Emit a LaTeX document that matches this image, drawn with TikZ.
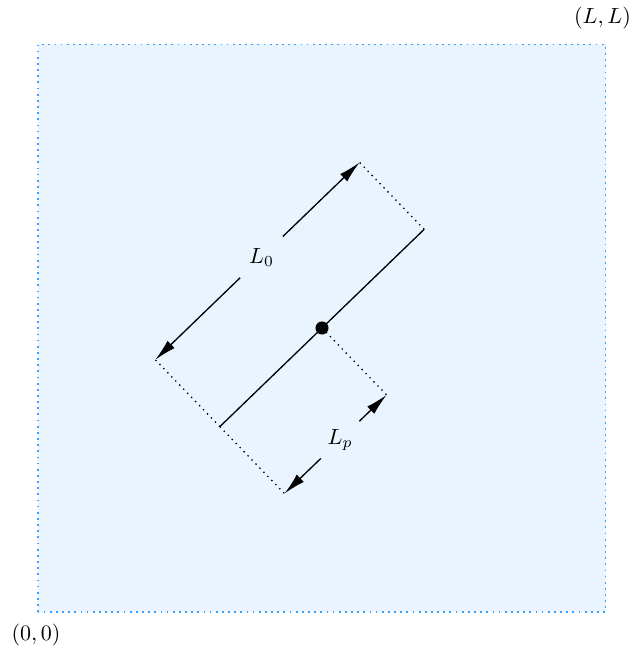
\documentclass[tikz,border=0pt]{standalone}
\usepackage{amsmath}
\usetikzlibrary{arrows.meta,calc}
\definecolor{boxfill}{RGB}{233,244,254}
\definecolor{boxedge}{RGB}{60,160,255}

\begin{document}
\begin{tikzpicture}[>={Latex[length=10pt,width=4.6pt]}, x=0.016cm, y=0.016cm,
  rod/.style={semithick},
  guide/.style={dotted, semithick},
  gap/.style={circle, inner sep=0pt}]
  \useasboundingbox (-38,-38) rectangle (595,612);
  % domain [0,L]^2
  \coordinate (O) at (0,0);
  \coordinate (LL) at (567.5,567.5);
  \draw[boxedge, fill=boxfill, line width=0.8pt, dash pattern=on 0.8pt off 2pt] (O) rectangle (LL);
  \node (origin) at ($(O)+(-2,-23)$) {$(0,0)$};
  \node (corner) at ($(LL)+(-3,26)$) {$(L,L)$};
  % rod: centre, half length 142, tilted by 44 degrees
  \coordinate (C) at (284,284);
  \coordinate (A) at ($(C)+(224:142)$);
  \coordinate (B) at ($(C)+(44:142)$);
  % guides, offset 93 on either side
  \coordinate (A0) at ($(A)+(134:93)$);
  \coordinate (B0) at ($(B)+(134:93)$);
  \coordinate (C1) at ($(C)+(-46:93)$);
  \coordinate (A1) at ($(A)+(-46:93)$);
  \draw[guide] (A) -- (A0);
  \draw[guide] (B) -- (B0);
  \draw[guide] (C) -- (C1);
  \draw[guide] (A) -- (A1);
  \draw[rod] (A) -- (B);
  \node[circle,fill,inner sep=2.1pt] (cm) at (C) {};
  % lengths
  \node[gap, minimum size=26.7pt] (l0) at ($(A0)!0.52!(B0)$) {$L_0$};
  \draw[rod,->] (l0) -- (B0);
  \draw[rod,->] (l0) -- (A0);
  \node[gap, minimum size=24pt] (lp) at ($(A1)!0.545!(C1)$) {$L_p$};
  \draw[rod,->] (lp) -- (C1);
  \draw[rod,->] (lp) -- (A1);
\end{tikzpicture}
\end{document}
